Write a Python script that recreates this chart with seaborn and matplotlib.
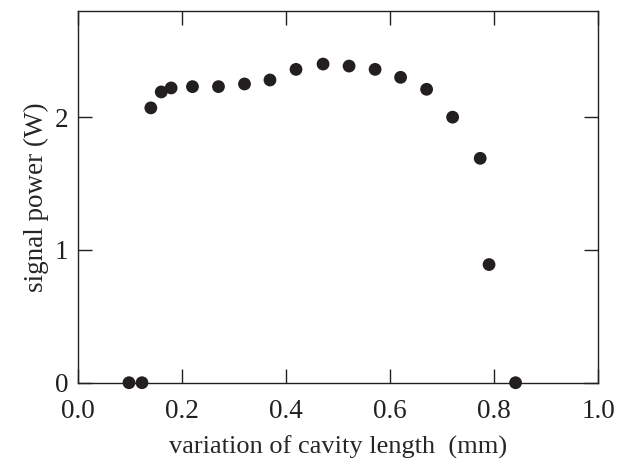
import numpy as np
import pandas as pd
import matplotlib
matplotlib.use("Agg")
import matplotlib.pyplot as plt
import seaborn as sns

# data
cavity_len = [0.098, 0.123, 0.140, 0.160, 0.179, 0.220, 0.270, 0.320, 0.369, 0.419,
              0.471, 0.521, 0.571, 0.620, 0.670, 0.720, 0.773, 0.790, 0.841]
signal_pow = [0.0, 0.0, 2.07, 2.19, 2.22, 2.23, 2.23, 2.25, 2.28, 2.36,
              2.40, 2.385, 2.36, 2.30, 2.21, 2.00, 1.69, 0.89, 0.0]

df = pd.DataFrame({"x": cavity_len, "y": signal_pow})

sns.set_style("ticks")
plt.rcParams["font.family"] = ["Liberation Serif", "DejaVu Serif"]
plt.rcParams["axes.linewidth"] = 1.0

fig = plt.figure(figsize=(6.3, 4.7), dpi=100)
ax = fig.add_axes([0.1238, 0.1857, 0.8259, 0.791])

sns.scatterplot(data=df, x="x", y="y", ax=ax, s=85, color="#231f20",
                edgecolor="none", clip_on=False, zorder=3)

ax.set_xlim(0, 1.0)
ax.set_ylim(0, 2.8)
ax.set_xticks([0.0, 0.2, 0.4, 0.6, 0.8, 1.0])
ax.set_xticklabels(["0.0", "0.2", "0.4", "0.6", "0.8", "1.0"])
ax.set_yticks([0, 1, 2])
ax.tick_params(direction="in", length=10, width=1, labelsize=19.5,
               top=True, right=True, colors="#231f20")
ax.tick_params(axis="x", pad=12)
ax.tick_params(axis="y", pad=7)
for sp in ax.spines.values():
    sp.set_color("#231f20")

ax.set_xlabel("variation of cavity length  (mm)", fontsize=19, labelpad=8)
ax.set_ylabel("signal power (W)", fontsize=19.5, labelpad=4)

fig.savefig("out.png", dpi=100)
